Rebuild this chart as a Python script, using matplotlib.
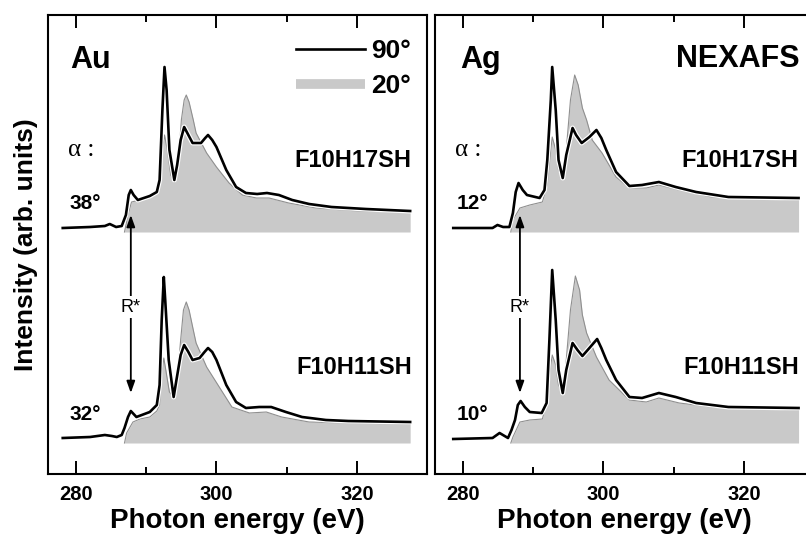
import numpy as np
import matplotlib
matplotlib.use("Agg")
from matplotlib import pyplot as plt
from matplotlib.lines import Line2D
import matplotlib.patheffects as pe

plt.rcParams['font.family'] = ['Liberation Sans', 'DejaVu Sans']
plt.rcParams['font.weight'] = 'bold'
plt.rcParams['axes.labelweight'] = 'bold'

# spectra: energy (eV) and intensity (arb. units above own baseline)
# Au, F10H17SH
au17_e90 = [278.1, 282.0, 284.1, 284.8, 285.7, 286.5, 287.1, 287.5, 287.8, 288.2, 288.8, 290.5,
            291.5, 291.9, 292.3, 292.6, 292.9, 293.3, 294.0, 294.4, 294.9, 295.4, 296.0, 296.6,
            297.8, 298.4, 298.8, 299.4, 300.0, 301.4, 302.8, 304.2, 305.8, 307.2, 308.9, 310.8,
            313.2, 316.4, 321.3, 327.6]
au17_i90 = [4, 5, 6, 8, 5, 6, 17, 37, 42, 37, 32, 36,
            40, 52, 122, 165, 142, 82, 52, 67, 92, 105, 97, 89,
            89, 94, 97, 92, 85, 62, 45, 39, 38, 39, 37, 32,
            28, 25, 23, 21]
au17_e20 = [286.9, 287.4, 287.9, 289.1, 290.5, 291.5, 291.9, 292.3, 292.6, 293.0, 293.5, 294.0,
            294.6, 295.0, 295.4, 295.7, 296.1, 296.7, 297.1, 298.6, 300.0, 301.8, 303.7, 305.7,
            307.5, 310.3, 314.2, 320.3, 327.6]
au17_i20 = [0, 17, 30, 32, 35, 39, 47, 82, 97, 82, 57, 50,
            72, 112, 132, 137, 130, 112, 99, 79, 65, 49, 37, 34,
            34, 29, 24, 21, 20]

# Au, F10H11SH
au11_e90 = [278.1, 282.0, 284.1, 285.1, 285.8, 286.5, 286.9, 287.4, 287.8, 288.2, 288.6, 290.5,
            291.5, 291.9, 292.2, 292.5, 292.7, 293.2, 293.9, 294.3, 294.9, 295.4, 296.0, 296.6,
            297.6, 298.3, 298.8, 299.4, 300.0, 301.4, 302.8, 304.2, 306.1, 307.8, 309.9, 312.2,
            315.6, 318.8, 327.6]
au11_i90 = [5, 6, 8, 7, 6, 8, 15, 26, 32, 29, 26, 31,
            38, 58, 123, 166, 143, 83, 46, 63, 88, 98, 91, 83,
            85, 91, 95, 91, 83, 58, 41, 35, 36, 36, 31, 26,
            23, 22, 21]
au11_e20 = [286.9, 287.2, 288.1, 289.1, 290.5, 291.5, 291.9, 292.2, 292.5, 292.9, 293.3, 293.9,
            294.4, 294.9, 295.3, 295.7, 296.1, 296.7, 297.1, 298.6, 300.4, 302.2, 304.7, 307.1,
            309.3, 313.2, 318.8, 327.6]
au11_i20 = [0, 10, 21, 24, 26, 32, 38, 68, 85, 68, 51, 46,
            63, 103, 133, 141, 133, 113, 100, 76, 56, 36, 30, 31,
            26, 21, 20, 19]

# Ag, F10H17SH
ag17_e90 = [278.6, 284.2, 284.9, 285.7, 286.6, 287.1, 287.5, 287.9, 288.5, 289.1, 290.9, 291.6,
            292.0, 292.5, 292.7, 293.2, 293.6, 294.2, 294.7, 295.6, 296.1, 296.9, 298.0, 299.0,
            299.7, 300.4, 301.8, 303.7, 305.5, 307.9, 310.3, 313.2, 317.8, 327.8]
ag17_i90 = [4, 4, 7, 5, 5, 19, 40, 49, 42, 37, 34, 42,
            72, 132, 165, 122, 72, 54, 77, 104, 97, 89, 95, 102,
            94, 82, 60, 46, 47, 50, 45, 40, 35, 34]
ag17_e20 = [286.8, 287.1, 288.1, 289.5, 291.3, 292.0, 292.5, 292.7, 293.2, 293.6, 294.2, 294.7,
            295.3, 295.9, 296.4, 297.0, 297.6, 298.4, 299.8, 301.8, 303.7, 306.1, 307.9, 310.8,
            315.4, 327.8]
ag17_i20 = [0, 12, 24, 27, 30, 47, 82, 95, 82, 62, 55, 82,
            132, 157, 147, 124, 112, 92, 79, 55, 44, 44, 47, 42,
            35, 32]

# Ag, F10H11SH
ag11_e90 = [278.6, 284.2, 285.2, 286.4, 286.9, 287.4, 287.8, 288.2, 288.8, 289.5, 291.2, 291.9,
            292.3, 292.7, 293.2, 293.6, 294.2, 294.7, 295.6, 296.3, 297.0, 298.0, 299.1, 299.7,
            300.4, 301.8, 303.7, 305.5, 307.9, 310.3, 313.2, 317.8, 327.8]
ag11_i90 = [4, 5, 10, 5, 13, 23, 38, 42, 36, 31, 30, 40,
            103, 173, 123, 73, 50, 73, 100, 93, 87, 95, 104, 95,
            83, 63, 46, 45, 50, 46, 40, 36, 35]
ag11_e20 = [286.8, 287.1, 288.1, 289.5, 291.3, 292.0, 292.5, 292.7, 293.2, 293.6, 294.2, 294.7,
            295.3, 296.0, 296.6, 297.0, 297.6, 299.0, 300.8, 303.7, 306.1, 307.9, 310.8, 315.4,
            327.8]
ag11_i20 = [0, 6, 21, 23, 24, 43, 78, 88, 78, 58, 51, 83,
            133, 167, 153, 128, 110, 86, 63, 43, 41, 45, 40, 36,
            33]

offset_h17 = 211
offset_h11 = 0
r_star_au = 287.8
r_star_ag = 288.1

xticks_major = [280, 300, 320]
xticks_minor = [290, 310]

gray = '#c9c9c9'

fig = plt.figure(figsize=(8.06, 5.40), dpi=100)
ax1 = fig.add_axes([48 / 806, 66 / 540, 379 / 806, 459 / 540])
ax2 = fig.add_axes([435 / 806, 66 / 540, 379 / 806, 459 / 540])

halo = [pe.Stroke(linewidth=3.6, foreground='white'), pe.Normal()]


def draw_panel(ax, spectra, r_star, ang_top, ang_bot):
    for e90, i90, e20, i20, off in spectra:
        e20 = np.array(e20)
        i20 = np.array(i20)
        ax.fill_between(e20, off, off + i20, color=gray, lw=0)
        ax.plot(e20, off + i20, color='#8f8f8f', lw=0.8)
        ax.plot(e90, off + np.array(i90), color='black', lw=1.9, path_effects=halo)

    ax.set_xlim(276, 330)
    ax.set_ylim(-31, 428)
    ax.set_yticks([])
    ax.set_xticks(xticks_major)
    ax.set_xticklabels([str(t) for t in xticks_major], fontweight='bold')
    ax.set_xticks(xticks_minor, minor=True)
    ax.tick_params(axis='x', which='both', direction='in', top=True, bottom=True, width=1.4,
                   labelsize=14.5, pad=8)
    ax.tick_params(axis='x', which='major', length=9.5)
    ax.tick_params(axis='x', which='minor', length=5)
    for s in ax.spines.values():
        s.set_linewidth(1.5)
    ax.set_xlabel('Photon energy (eV)', fontsize=20, fontweight='bold', labelpad=3)

    ax.annotate('', xy=(r_star, 50), xytext=(r_star, 228),
                arrowprops=dict(arrowstyle='<|-|>,head_length=0.7,head_width=0.25',
                                color='black', lw=1.3, shrinkA=0, shrinkB=0))
    ax.text(r_star, 136, 'R*', fontsize=13, fontweight='normal', ha='center', va='center',
            bbox=dict(facecolor='white', edgecolor='none', pad=1.5))

    ax.text(0.053, 0.706, 'α :', transform=ax.transAxes, fontsize=18, fontweight='normal',
            family=['Liberation Serif', 'DejaVu Serif'], va='center')
    ax.text(0.058, 0.590, ang_top, transform=ax.transAxes, fontsize=15, va='center')
    ax.text(0.058, 0.129, ang_bot, transform=ax.transAxes, fontsize=15, va='center')
    ax.text(0.960, 0.684, 'F10H17SH', transform=ax.transAxes, fontsize=17, ha='right', va='center')
    ax.text(0.960, 0.231, 'F10H11SH', transform=ax.transAxes, fontsize=17, ha='right', va='center')


draw_panel(ax1, [(au17_e90, au17_i90, au17_e20, au17_i20, offset_h17),
                 (au11_e90, au11_i90, au11_e20, au11_i20, offset_h11)],
           r_star_au, '38°', '32°')
draw_panel(ax2, [(ag17_e90, ag17_i90, ag17_e20, ag17_i20, offset_h17),
                 (ag11_e90, ag11_i90, ag11_e20, ag11_i20, offset_h11)],
           r_star_ag, '12°', '10°')

ax1.text(0.058, 0.902, 'Au', transform=ax1.transAxes, fontsize=22, va='center')
ax2.text(0.066, 0.902, 'Ag', transform=ax2.transAxes, fontsize=22, va='center')
ax2.text(0.963, 0.904, 'NEXAFS', transform=ax2.transAxes, fontsize=22, ha='right', va='center')

ax1.set_ylabel('Intensity (arb. units)', fontsize=19, fontweight='bold', labelpad=7)

handles = [Line2D([0], [0], color='black', lw=1.9),
           Line2D([0], [0], color=gray, lw=7, solid_capstyle='butt')]
ax1.legend(handles, ['90°', '20°'], loc='upper right', bbox_to_anchor=(0.958, 0.948),
           frameon=False, fontsize=19, handlelength=2.6, handletextpad=0.25,
           labelspacing=0.42, borderpad=0, borderaxespad=0)

fig.savefig('out.png', dpi=100)
